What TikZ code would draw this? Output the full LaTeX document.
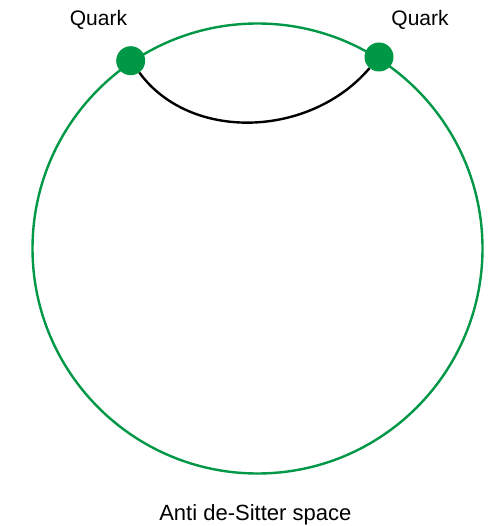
\documentclass[tikz,border=0pt]{standalone}
\usepackage{fontspec}
\setmainfont{Liberation Sans}
\usetikzlibrary{positioning}
\definecolor{adsgreen}{RGB}{0,152,70}

\begin{document}
\begin{tikzpicture}[
    x=1pt, y=-1pt,
    quark/.style = {circle, fill=adsgreen, inner sep=0pt, minimum size=29pt},
    lbl/.style = {anchor=base, inner sep=0pt, font=\fontsize{21}{25}\selectfont},
    boundary/.style = {circle, draw=adsgreen, line width=2.4pt, inner sep=0pt, minimum size=450pt}
]
\useasboundingbox (0,0) rectangle (500,526);

\node[boundary] (ads) at (257.5,248.5) {};
\node[quark] (ql) at (130.7,60.7) {};
\node[quark] (qr) at (379,57) {};

\draw[line width=2.4pt] (ql) .. controls (190,142) and (310,138) .. (qr);

\node[lbl] (qllabel) at (98.5,26) {Quark};
\node[lbl] (qrlabel) at (420,26) {Quark};
\node[lbl, font=\fontsize{22}{26}\selectfont] (adslabel) at (255.3,520) {Anti de-Sitter space};
\end{tikzpicture}
\end{document}
